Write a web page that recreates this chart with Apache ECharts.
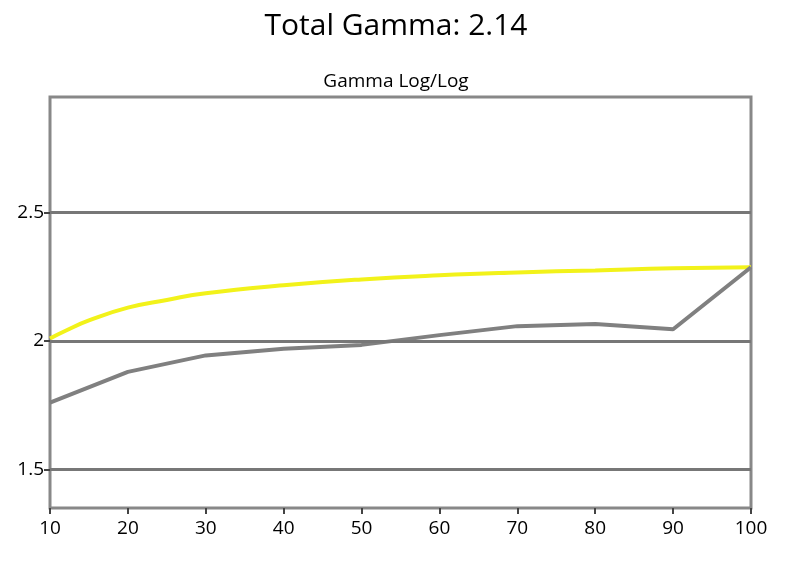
<!DOCTYPE html>
<html><head><meta charset="utf-8">
<script src="https://cdn.jsdelivr.net/npm/echarts@6/dist/echarts.min.js"></script>
<style>html,body{margin:0;padding:0;background:#fff}#c{width:792px;height:564px}</style>
</head><body><div id="c"></div>
<script>
const grayX = [10,20,30,40,50,60,70,80,90,100];
const grayY = [1.76,1.88,1.944,1.97,1.985,2.023,2.058,2.066,2.046,2.287];
const yellowX = [10,12,15,20,25,30,40,50,60,70,80,90,100];
const yellowY = [2.01,2.04,2.08,2.13,2.16,2.186,2.217,2.24,2.256,2.267,2.275,2.283,2.287];
const yTicks = [1.5,2,2.5];
const xTicks = [10,20,30,40,50,60,70,80,90,100];
const chart = echarts.init(document.getElementById('c'));
chart.setOption({
  animation:false,
  title:[
    {text:'Total Gamma: 2.14',left:'center',top:6,textStyle:{fontFamily:'Open Sans',fontSize:30,fontWeight:'normal',color:'#000'}},
    {text:'Gamma Log/Log',left:'center',top:67,textStyle:{fontFamily:'Open Sans',fontSize:19,fontWeight:'normal',color:'#000'}}
  ],
  grid:{left:50,right:41,top:97,bottom:56,show:true,borderColor:'#888',borderWidth:3},
  xAxis:{type:'value',min:10,max:100,interval:10,
    axisLine:{show:false},splitLine:{show:false},
    axisTick:{show:true,length:6,lineStyle:{color:'#444',width:2}},
    axisLabel:{fontFamily:'Open Sans',fontSize:19,color:'#000',margin:11}},
  yAxis:{type:'value',min:1.35,max:2.95,
    axisLine:{show:false},splitLine:{show:false},
    axisTick:{show:true,length:6,inside:false,customValues:yTicks,lineStyle:{color:'#444',width:2}},
    axisLabel:{fontFamily:'Open Sans',fontSize:19,color:'#000',customValues:yTicks,margin:6}},
  series:[
    {type:'line',data:[],markLine:{silent:true,symbol:'none',label:{show:false},
      lineStyle:{color:'#777',width:3,type:'solid'},data:yTicks.map(v=>({yAxis:v}))}},
    {type:'line',smooth:true,showSymbol:false,data:yellowX.map((x,i)=>[x,yellowY[i]]),lineStyle:{color:'#f2f21a',width:4}},
    {type:'line',showSymbol:false,data:grayX.map((x,i)=>[x,grayY[i]]),lineStyle:{color:'#808080',width:4}}
  ]
});
</script></body></html>
